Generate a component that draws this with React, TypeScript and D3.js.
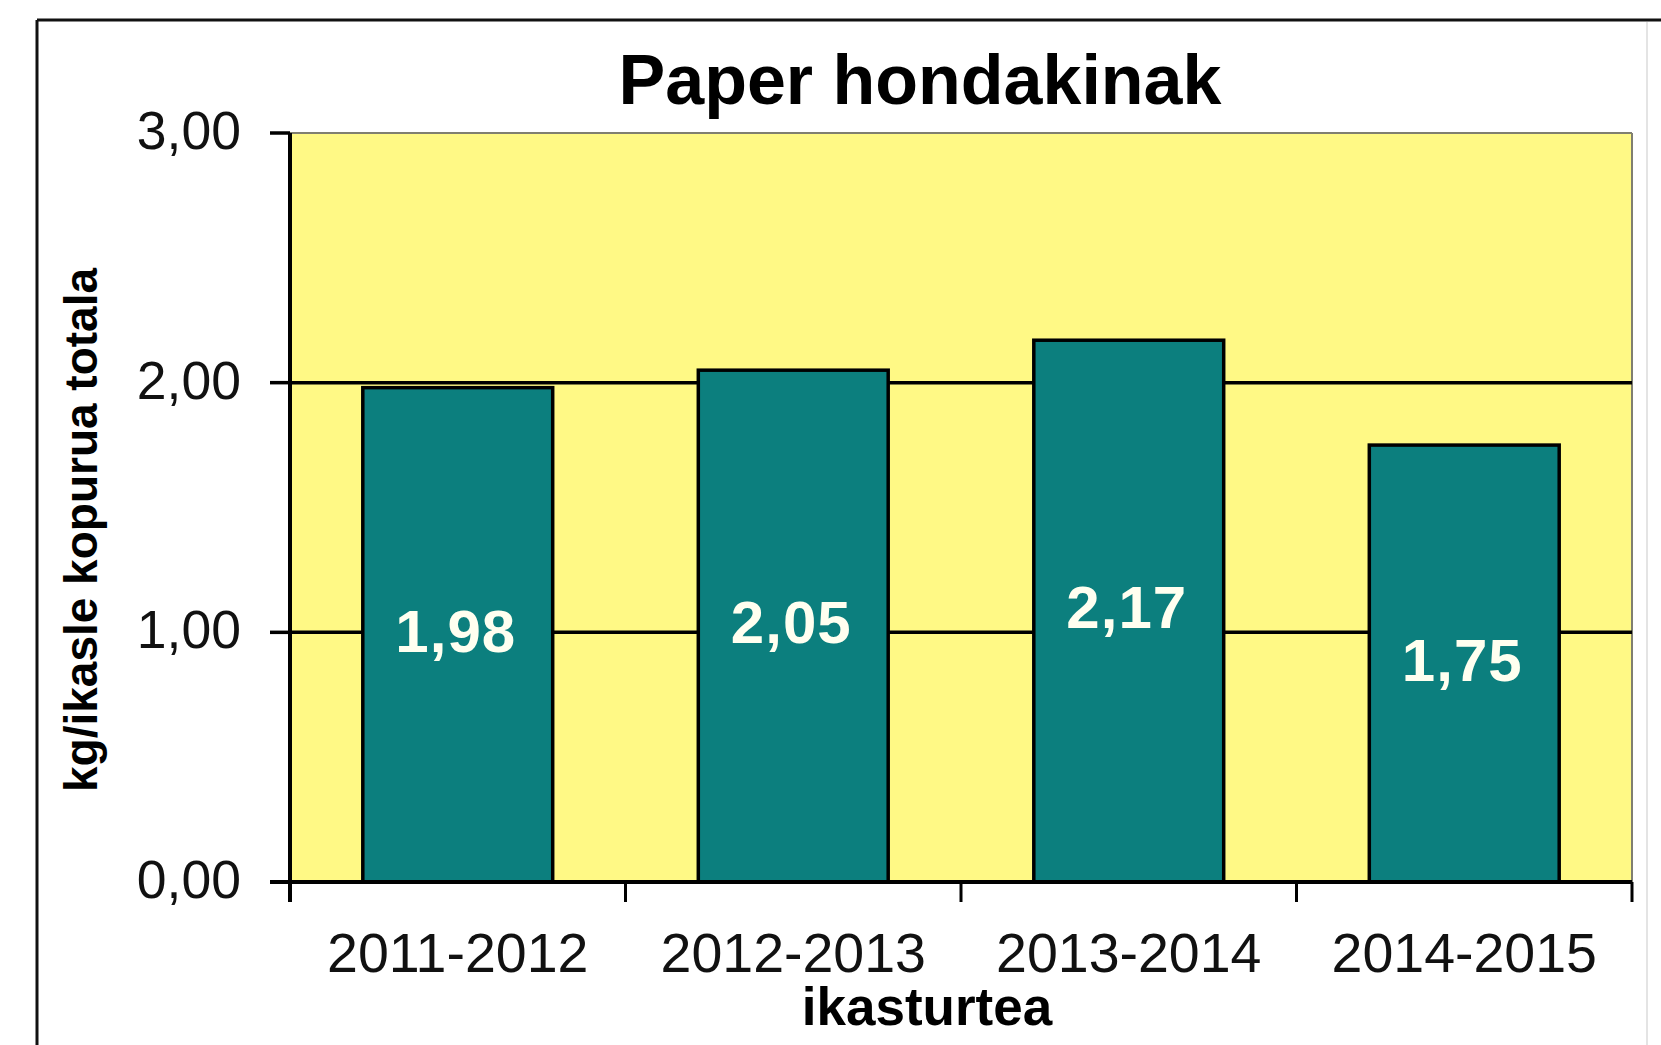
import React from "react";
import * as d3 from "d3";

const categories: string[] = ["2011-2012", "2012-2013", "2013-2014", "2014-2015"];
const values: number[] = [1.98, 2.05, 2.17, 1.75];
const yTicks: number[] = [0, 1, 2, 3];
const title = "Paper hondakinak";
const xTitle = "ikasturtea";
const yTitle = "kg/ikasle kopurua totala";

const W = 1661;
const H = 1045;
const plot = { left: 290, right: 1632, top: 133, bottom: 882 };
const fmt = (v: number) => v.toFixed(2).replace(".", ",");
const FONT = "Liberation Sans, Arial, Helvetica, sans-serif";

export default function App() {
  const x = d3.scaleBand<string>().domain(categories).range([plot.left, plot.right]).padding(0);
  const y = d3.scaleLinear().domain([0, 3]).range([plot.bottom, plot.top]);
  const bw = x.bandwidth() * 0.566;
  const bounds = [...categories.map((c) => x(c) as number), plot.right];

  return (
    <svg
      width={W}
      height={H}
      style={{ position: "absolute", left: 0, top: 0, display: "block", background: "#fff" }}
      fontFamily={FONT}
    >
      {/* outer frame */}
      <line x1={37} y1={20} x2={W} y2={20} stroke="#111" strokeWidth={3} />
      <line x1={37} y1={20} x2={37} y2={H} stroke="#111" strokeWidth={3} />
      <line x1={1647} y1={22} x2={1647} y2={H} stroke="#e4e4e4" strokeWidth={2} />

      {/* title */}
      <text x={920} y={104} textAnchor="middle" fontSize={70} fontWeight="bold" fill="#000">
        {title}
      </text>

      {/* plot area */}
      <rect x={plot.left} y={plot.top} width={plot.right - plot.left} height={plot.bottom - plot.top} fill="#FFF985" />
      <line x1={plot.left} y1={plot.top} x2={plot.right} y2={plot.top} stroke="#807f70" strokeWidth={2} />
      <line x1={plot.right} y1={plot.top} x2={plot.right} y2={plot.bottom} stroke="#807f70" strokeWidth={2} />

      {/* gridlines */}
      {yTicks
        .filter((t) => t > 0 && t < 3)
        .map((t) => (
          <line key={"g" + t} x1={plot.left} x2={plot.right} y1={y(t)} y2={y(t)} stroke="#000" strokeWidth={3.5} />
        ))}

      {/* bars */}
      {categories.map((c, i) => {
        const cx = (x(c) as number) + x.bandwidth() / 2;
        const top = y(values[i]);
        return (
          <g key={c}>
            <rect
              x={cx - bw / 2}
              y={top}
              width={bw}
              height={plot.bottom - top}
              fill="#0C7F7E"
              stroke="#000"
              strokeWidth={3.5}
            />
            <text
              x={cx - 2}
              y={(top + plot.bottom) / 2 + 17}
              textAnchor="middle"
              fontSize={60}
              fontWeight="bold"
              fill="#FFFFF0"
              letterSpacing={1}
            >
              {fmt(values[i])}
            </text>
          </g>
        );
      })}

      {/* y axis */}
      <line x1={plot.left} y1={plot.top} x2={plot.left} y2={plot.bottom + 20} stroke="#000" strokeWidth={4} />
      {yTicks.map((t) => (
        <g key={"y" + t}>
          <line x1={plot.left - 20} x2={plot.left} y1={y(t)} y2={y(t)} stroke="#000" strokeWidth={3.5} />
          <text x={241} y={y(t) + 16} textAnchor="end" fontSize={53.5} fill="#111">
            {fmt(t)}
          </text>
        </g>
      ))}

      {/* x axis */}
      <line x1={plot.left - 20} y1={plot.bottom} x2={plot.right} y2={plot.bottom} stroke="#000" strokeWidth={4} />
      {bounds.map((b, i) => (
        <line key={"xt" + i} x1={b} x2={b} y1={plot.bottom} y2={plot.bottom + 20} stroke="#000" strokeWidth={3} />
      ))}
      {categories.map((c) => (
        <text
          key={"xl" + c}
          x={(x(c) as number) + x.bandwidth() / 2}
          y={972}
          textAnchor="middle"
          fontSize={55.5}
          fill="#111"
        >
          {c}
        </text>
      ))}

      {/* axis titles */}
      <text x={927} y={1025} textAnchor="middle" fontSize={53} fontWeight="bold" fill="#000">
        {xTitle}
      </text>
      <text
        transform="translate(97,530) rotate(-90)"
        textAnchor="middle"
        fontSize={46}
        fontWeight="bold"
        fill="#000"
      >
        {yTitle}
      </text>
    </svg>
  );
}
